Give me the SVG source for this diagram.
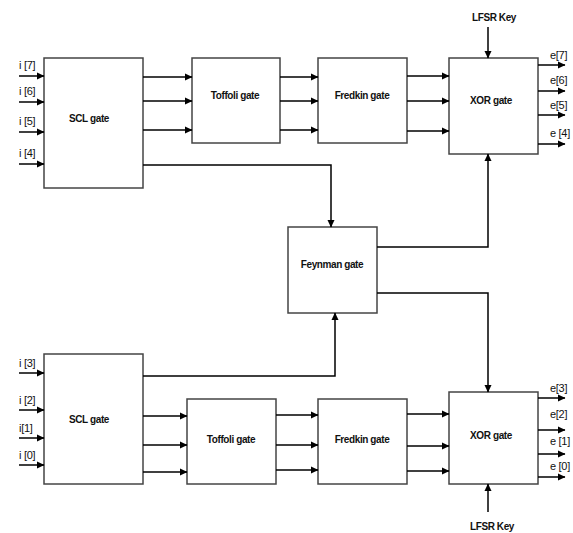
<svg xmlns="http://www.w3.org/2000/svg" width="573" height="533" viewBox="0 0 573 533">
<defs>
<marker id="ah" markerWidth="8" markerHeight="8" refX="7" refY="4" orient="auto" markerUnits="userSpaceOnUse">
<path d="M0,0.5 L7.5,4 L0,7.5 Z" fill="#000"/>
</marker>
<style>
.box{fill:#fff;stroke:#444;stroke-width:1.5}
.lbl{font-family:"Liberation Sans",Arial,sans-serif;font-size:10px;font-weight:bold;text-anchor:middle;letter-spacing:-0.4px;fill:#111}
.io{font-family:"Liberation Sans",Arial,sans-serif;font-size:11px;fill:#111;letter-spacing:-0.3px}
.w{fill:none;stroke:#000;stroke-width:1.5}
.a{fill:none;stroke:#000;stroke-width:1.5;marker-end:url(#ah)}
</style>
</defs>
<rect width="573" height="533" fill="#fff"/>
<g id="scl-top"><rect class="box" x="44" y="58" width="99" height="130"/><text class="lbl" x="89" y="122">SCL gate</text></g>
<g id="toffoli-top"><rect class="box" x="192" y="58" width="88" height="85"/><text class="lbl" x="235" y="99">Toffoli gate</text></g>
<g id="fredkin-top"><rect class="box" x="318" y="58" width="89" height="85"/><text class="lbl" x="362" y="99">Fredkin gate</text></g>
<g id="xor-top"><rect class="box" x="449" y="58" width="89" height="96"/><text class="lbl" x="491" y="104">XOR gate</text></g>
<g id="feynman"><rect class="box" x="288" y="227" width="89" height="86"/><text class="lbl" x="332" y="268">Feynman gate</text></g>
<g id="scl-bot"><rect class="box" x="44" y="354" width="99" height="130"/><text class="lbl" x="89" y="423">SCL gate</text></g>
<g id="toffoli-bot"><rect class="box" x="187" y="399" width="89" height="85"/><text class="lbl" x="231" y="443">Toffoli gate</text></g>
<g id="fredkin-bot"><rect class="box" x="318" y="399" width="89" height="85"/><text class="lbl" x="362" y="443">Fredkin gate</text></g>
<g id="xor-bot"><rect class="box" x="449" y="392" width="89" height="92"/><text class="lbl" x="491" y="439">XOR gate</text></g>
<g id="labels">
<text class="io" x="19" y="69">i [7]</text>
<text class="io" x="19" y="95">i [6]</text>
<text class="io" x="19" y="125">i [5]</text>
<text class="io" x="19" y="157">i [4]</text>
<text class="io" x="19" y="367">i [3]</text>
<text class="io" x="19" y="404">i [2]</text>
<text class="io" x="19" y="432">i[1]</text>
<text class="io" x="19" y="459">i [0]</text>
<text class="io" x="550" y="59">e[7]</text>
<text class="io" x="550" y="84">e[6]</text>
<text class="io" x="550" y="109">e[5]</text>
<text class="io" x="550" y="137">e [4]</text>
<text class="io" x="550" y="392">e[3]</text>
<text class="io" x="550" y="418">e[2]</text>
<text class="io" x="550" y="445">e [1]</text>
<text class="io" x="550" y="470">e [0]</text>
<text class="lbl" x="494" y="21">LFSR Key</text>
<text class="lbl" x="492" y="530">LFSR Key</text>
</g>
<g id="connectors">
<path class="a" d="M19,76 H44"/>
<path class="a" d="M19,102 H44"/>
<path class="a" d="M19,132 H44"/>
<path class="a" d="M19,164 H44"/>
<path class="a" d="M143,77 H192"/>
<path class="a" d="M143,101 H192"/>
<path class="a" d="M143,130 H192"/>
<path class="a" d="M280,77 H318"/>
<path class="a" d="M280,101 H318"/>
<path class="a" d="M280,130 H318"/>
<path class="a" d="M407,76 H449"/>
<path class="a" d="M407,101 H449"/>
<path class="a" d="M407,131 H449"/>
<path class="a" d="M488,27 V58"/>
<path class="a" d="M538,65 H565"/>
<path class="a" d="M538,91 H565"/>
<path class="a" d="M538,115 H565"/>
<path class="a" d="M538,144 H565"/>
<path class="a" d="M143,165 H331 V227"/>
<path class="a" d="M377,247 H488 V154"/>
<path class="a" d="M377,293 H488 V392"/>
<path class="a" d="M143,376 H335 V313"/>
<path class="a" d="M19,373 H44"/>
<path class="a" d="M19,410 H44"/>
<path class="a" d="M19,438 H44"/>
<path class="a" d="M19,465 H44"/>
<path class="a" d="M143,416 H187"/>
<path class="a" d="M143,445 H187"/>
<path class="a" d="M143,472 H187"/>
<path class="a" d="M276,415 H318"/>
<path class="a" d="M276,445 H318"/>
<path class="a" d="M276,470 H318"/>
<path class="a" d="M407,414 H449"/>
<path class="a" d="M407,446 H449"/>
<path class="a" d="M407,471 H449"/>
<path class="a" d="M488,512 V484"/>
<path class="a" d="M538,398 H565"/>
<path class="a" d="M538,430 H565"/>
<path class="a" d="M538,454 H565"/>
<path class="a" d="M538,477 H565"/>
</g>
</svg>
